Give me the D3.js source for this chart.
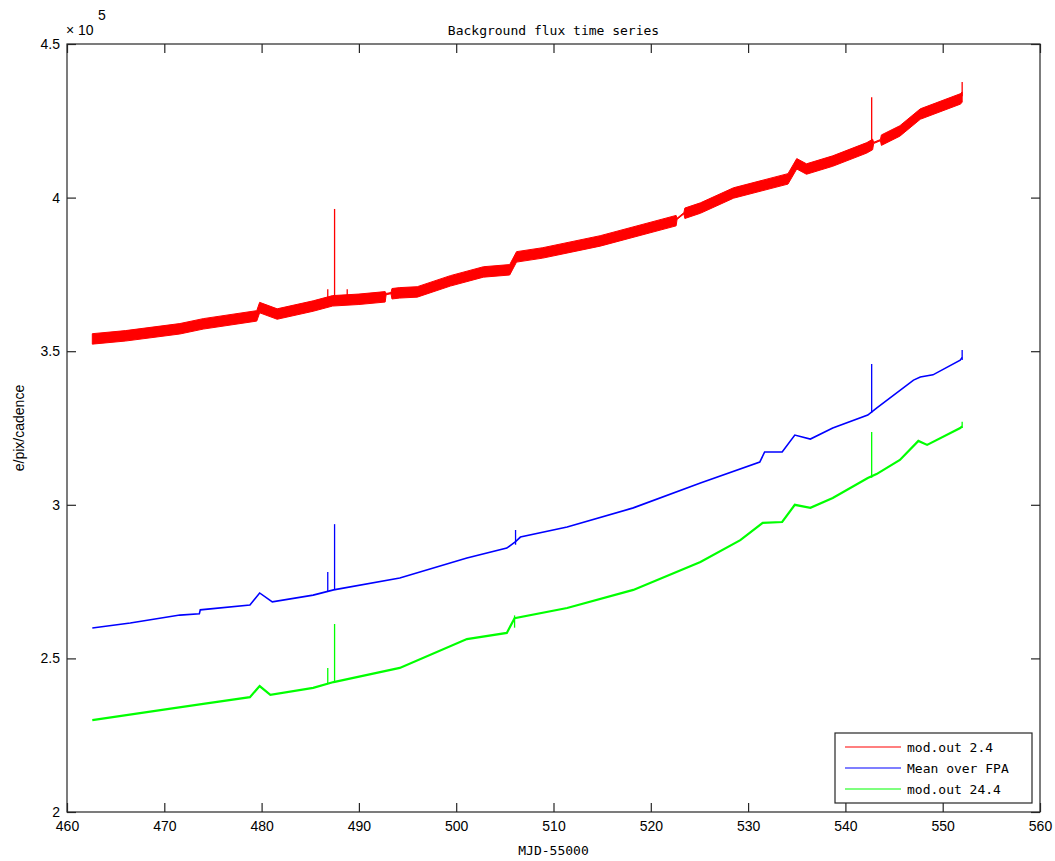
<!DOCTYPE html>
<html>
<head>
    <meta charset="utf-8">
    <style>
        body { margin: 0; background: white; }
        svg { display: block; }
        .tick-label { font-family: 'Liberation Sans', Arial, sans-serif; font-size: 14px; fill: #000; }
        .mono { font-family: 'DejaVu Sans Mono', monospace; font-size: 13px; fill: #000; }
    </style>
</head>
<body>
<svg id="chart" width="1055" height="861"></svg>

<script src="https://d3js.org/d3.v7.min.js"></script>
<script>
    // values are e/pix/cadence in units of 1e5
    let xTicks = [460, 470, 480, 490, 500, 510, 520, 530, 540, 550, 560]
    let yTicks = [2, 2.5, 3, 3.5, 4, 4.5]
    let yTickLabels = ["2", "2.5", "3", "3.5", "4", "4.5"]

    // mod.out 2.4 : noisy, drawn as a band
    let redBandX = [462.6, 466.0, 471.6, 474.0, 479.5, 479.8, 481.6, 485.3, 487.3, 490.0, 492.7, 492.8, 493.3, 493.4, 494.2, 496.0, 499.4, 502.8, 505.5, 506.2, 508.9, 514.8, 522.6, 522.7, 523.4, 523.5, 525.1, 528.5, 534.1, 535.0, 536.0, 538.7, 542.2, 542.8, 542.9, 543.6, 543.7, 545.6, 547.7, 551.8, 552.0]
    let redHi = [3.557, 3.567, 3.590, 3.606, 3.632, 3.659, 3.638, 3.664, 3.681, 3.686, 3.694, 3.688, 3.691, 3.704, 3.707, 3.710, 3.746, 3.775, 3.782, 3.824, 3.837, 3.876, 3.942, 3.933, 3.951, 3.966, 3.983, 4.032, 4.078, 4.127, 4.110, 4.136, 4.179, 4.190, 4.180, 4.189, 4.204, 4.234, 4.289, 4.338, 4.344]
    let redLo = [3.523, 3.533, 3.556, 3.572, 3.598, 3.625, 3.604, 3.630, 3.647, 3.652, 3.660, 3.684, 3.687, 3.670, 3.673, 3.676, 3.712, 3.741, 3.748, 3.790, 3.803, 3.842, 3.908, 3.929, 3.947, 3.932, 3.949, 3.998, 4.044, 4.093, 4.076, 4.102, 4.145, 4.156, 4.176, 4.185, 4.170, 4.200, 4.255, 4.304, 4.310]
    let redSpikeX = [486.8, 487.5, 488.8, 542.7, 552.0]
    let redSpikeBase = [3.660, 3.667, 3.672, 4.177, 4.330]
    let redSpikeTop = [3.702, 3.963, 3.702, 4.327, 4.376]

    // Mean over FPA
    let blueX = [462.6, 466.5, 471.6, 473.6, 473.7, 478.8, 479.8, 481.1, 485.3, 487.4, 494.2, 501.1, 505.2, 506.1, 506.6, 511.4, 518.2, 525.1, 531.2, 531.7, 533.5, 534.8, 536.4, 538.7, 542.3, 543.2, 547.0, 547.7, 549.0, 551.8, 552.0]
    let blueY = [2.599, 2.615, 2.641, 2.645, 2.658, 2.674, 2.713, 2.684, 2.706, 2.723, 2.762, 2.827, 2.859, 2.880, 2.895, 2.928, 2.990, 3.071, 3.139, 3.172, 3.172, 3.227, 3.214, 3.250, 3.292, 3.315, 3.406, 3.416, 3.423, 3.471, 3.480]
    let blueSpikeX = [486.8, 487.5, 506.1, 542.7, 552.0]
    let blueSpikeBase = [2.718, 2.723, 2.870, 3.300, 3.471]
    let blueSpikeTop = [2.781, 2.937, 2.918, 3.458, 3.504]

    // mod.out 24.4
    let greenX = [462.6, 470.3, 474.0, 478.8, 479.8, 480.9, 485.3, 487.4, 494.2, 501.1, 505.2, 506.0, 511.4, 518.2, 525.1, 529.2, 531.5, 533.5, 534.8, 536.4, 538.7, 542.3, 543.2, 545.6, 547.5, 548.4, 551.8, 552.0]
    let greenY = [2.299, 2.335, 2.352, 2.374, 2.410, 2.381, 2.404, 2.423, 2.469, 2.563, 2.583, 2.631, 2.664, 2.723, 2.814, 2.885, 2.941, 2.944, 3.000, 2.990, 3.022, 3.087, 3.100, 3.146, 3.208, 3.195, 3.250, 3.255]
    let greenSpikeX = [486.8, 487.5, 506.0, 542.7, 552.0]
    let greenSpikeBase = [2.418, 2.423, 2.600, 3.088, 3.250]
    let greenSpikeTop = [2.469, 2.612, 2.640, 3.237, 3.270]

    let legendNames = ["mod.out 2.4", "Mean over FPA", "mod.out 24.4"]
    let legendColors = ["#ff0000", "#0000ff", "#00ff00"]

    let margin = {left: 67, right: 1040, top: 44, bottom: 812}
    let svg = d3.select("#chart")
    let axisColor = "#262626"

    let x = d3.scaleLinear().domain([460, 560]).range([margin.left, margin.right])
    let y = d3.scaleLinear().domain([2, 4.5]).range([margin.bottom, margin.top])

    svg.append("rect").attr("width", 1055).attr("height", 861).attr("fill", "white")

    let plot = svg.append("g")

    // red band
    let redBand = redBandX.map((d, i) => ({x: d, lo: redLo[i], hi: redHi[i]}))
    plot.append("path")
        .datum(redBand)
        .attr("d", d3.area().x(d => x(d.x)).y0(d => y(d.lo)).y1(d => y(d.hi)))
        .attr("fill", "#ff0000")
        .attr("stroke", "#ff0000")
        .attr("stroke-width", 1)

    let line = d3.line().x(d => x(d[0])).y(d => y(d[1]))

    plot.append("path")
        .datum(blueX.map((d, i) => [d, blueY[i]]))
        .attr("d", line)
        .attr("fill", "none")
        .attr("stroke", "#0000ff")
        .attr("stroke-width", 1.6)

    plot.append("path")
        .datum(greenX.map((d, i) => [d, greenY[i]]))
        .attr("d", line)
        .attr("fill", "none")
        .attr("stroke", "#00ff00")
        .attr("stroke-width", 2.2)

    function spikes(xs, base, top, color) {
        plot.append("g")
            .selectAll("line")
            .data(xs)
            .join("line")
            .attr("x1", d => x(d))
            .attr("x2", d => x(d))
            .attr("y1", (d, i) => y(base[i]))
            .attr("y2", (d, i) => y(top[i]))
            .attr("stroke", color)
            .attr("stroke-width", 1.3)
    }
    spikes(redSpikeX, redSpikeBase, redSpikeTop, "#ff0000")
    spikes(blueSpikeX, blueSpikeBase, blueSpikeTop, "#0000ff")
    spikes(greenSpikeX, greenSpikeBase, greenSpikeTop, "#00ff00")

    // axes, MATLAB style box with inward ticks on all sides
    let tickLen = 9
    let axisBottom = d3.axisBottom(x).tickValues(xTicks).tickSize(tickLen).tickFormat(d3.format("d"))
    let gx = svg.append("g").attr("transform", "translate(0," + margin.bottom + ")").call(axisBottom)
    gx.selectAll(".tick line").attr("y2", -tickLen)
    gx.selectAll(".tick text").attr("y", 9).attr("class", "tick-label").attr("dy", "0.71em")

    let gxTop = svg.append("g").attr("transform", "translate(0," + margin.top + ")")
        .call(d3.axisTop(x).tickValues(xTicks).tickSize(-tickLen).tickFormat(""))

    let axisLeft = d3.axisLeft(y).tickValues(yTicks).tickSize(-tickLen).tickFormat((d, i) => yTickLabels[i])
    let gy = svg.append("g").attr("transform", "translate(" + margin.left + ",0)").call(axisLeft)
    gy.selectAll(".tick text").attr("x", -7).attr("class", "tick-label")

    let gyRight = svg.append("g").attr("transform", "translate(" + margin.right + ",0)")
        .call(d3.axisRight(y).tickValues(yTicks).tickSize(-tickLen).tickFormat(""))

    svg.selectAll(".domain").remove()
    svg.selectAll(".tick line").attr("stroke", axisColor).attr("stroke-width", 1.2)

    svg.append("rect")
        .attr("x", margin.left).attr("y", margin.top)
        .attr("width", margin.right - margin.left).attr("height", margin.bottom - margin.top)
        .attr("fill", "none").attr("stroke", axisColor).attr("stroke-width", 1.2)

    // exponent label
    let expo = svg.append("text").attr("class", "tick-label").attr("x", 66).attr("y", 35)
    expo.append("tspan").text("× 10")
    svg.append("text").attr("class", "tick-label").attr("x", 98).attr("y", 20).text("5")

    // title and axis labels
    svg.append("text").attr("class", "mono").attr("x", (margin.left + margin.right) / 2).attr("y", 35)
        .attr("text-anchor", "middle").text("Background flux time series")

    svg.append("text").attr("class", "mono").attr("x", (margin.left + margin.right) / 2).attr("y", 855)
        .attr("text-anchor", "middle").text("MJD-55000")

    svg.append("text").attr("class", "tick-label")
        .attr("transform", "translate(24," + ((margin.top + margin.bottom) / 2) + ") rotate(-90)")
        .attr("text-anchor", "middle").text("e/pix/cadence")

    // legend
    let legend = svg.append("g")
    legend.append("rect")
        .attr("x", 835).attr("y", 733).attr("width", 197).attr("height", 70)
        .attr("fill", "white").attr("stroke", axisColor).attr("stroke-width", 1.2)

    let rows = legend.selectAll(".row")
        .data(legendNames)
        .join("g")
        .attr("class", "row")
        .attr("transform", (d, i) => "translate(0," + (747 + i * 21) + ")")

    rows.append("line")
        .attr("x1", 845).attr("x2", 901)
        .attr("stroke", (d, i) => legendColors[i])
        .attr("stroke-width", 1.2)

    rows.append("text")
        .attr("class", "mono")
        .attr("x", 907).attr("y", 4.5)
        .text(d => d)
</script>
</body>
</html>
